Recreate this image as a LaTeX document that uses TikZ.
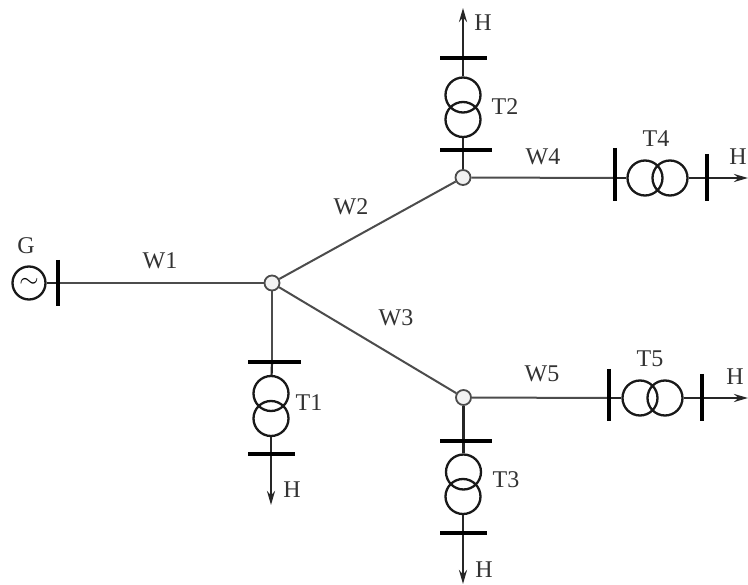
\documentclass[tikz,border=0pt]{standalone}
\usepackage{fontspec}
\setmainfont{Liberation Serif}
\usetikzlibrary{arrows.meta}
\tikzset{
  x=1pt,y=-1pt,
  lab/.style={font=\fontsize{24}{24}\selectfont,text=black!80,inner sep=0pt},
  hub/.style={circle,draw=black!70,fill=black!5,line width=1.8pt,minimum size=15pt,inner sep=0pt},
  wind/.style={circle,draw=black!90,line width=2.3pt,minimum size=35pt,inner sep=0pt},
  gen/.style={circle,draw=black!90,line width=2.3pt,minimum size=33pt,inner sep=0pt},
  wire/.style={draw=black!70,line width=2pt},
  lead/.style={draw=black!85,line width=2.2pt},
  bar/.style={draw=black,line width=3.4pt},
  outarrow/.style={draw=black!85,line width=2.2pt,-{Stealth[length=14pt,width=8pt]}},
}
\begin{document}
\begin{tikzpicture}
\useasboundingbox (0,0) rectangle (748,585);
\fill[white] (0,0) rectangle (748,585);
% generator and bus
\node[gen] (g) at (29,283) {\fontsize{26}{26}\selectfont$\sim$};
\coordinate (gb) at (58,283);
\coordinate (gbt) at (58,260);
\coordinate (gbb) at (58,306);
% hubs
\node[hub] (a) at (272,283) {};
\node[hub] (b) at (463,177.5) {};
\node[hub] (c) at (463.5,397.5) {};
% T1
\node[wind] (t1u) at (271,393.5) {};
\node[wind] (t1d) at (271,418.5) {};
\coordinate (t1a) at (272,362); \coordinate (t1al) at (248,362); \coordinate (t1ar) at (301,362);
\coordinate (t1b) at (271,454); \coordinate (t1bl) at (248,454); \coordinate (t1br) at (295,454);
\coordinate (t1h) at (271,505);
% T2
\node[wind] (t2u) at (463,95) {};
\node[wind] (t2d) at (463,119.5) {};
\coordinate (t2a) at (463,150); \coordinate (t2al) at (440,150); \coordinate (t2ar) at (492,150);
\coordinate (t2b) at (463,58); \coordinate (t2bl) at (440,58); \coordinate (t2br) at (487,58);
\coordinate (t2h) at (463,8);
% T3
\node[wind] (t3u) at (463.5,472) {};
\node[wind] (t3d) at (463,496.5) {};
\coordinate (t3a) at (463.5,441); \coordinate (t3al) at (440,441); \coordinate (t3ar) at (492,441);
\coordinate (t3b) at (463,533); \coordinate (t3bl) at (440,533); \coordinate (t3br) at (487,533);
\coordinate (t3h) at (463,584);
% T4
\node[wind] (t4l) at (645,178) {};
\node[wind] (t4r) at (670,178) {};
\coordinate (t4a) at (615,178); \coordinate (t4at) at (615,148); \coordinate (t4ab) at (615,201);
\coordinate (t4b) at (707,178); \coordinate (t4bt) at (707,154); \coordinate (t4bb) at (707,201);
\coordinate (t4h) at (748,178);
% T5
\node[wind] (t5l) at (640,398) {};
\node[wind] (t5r) at (665,398) {};
\coordinate (t5a) at (609,398); \coordinate (t5at) at (609,369); \coordinate (t5ab) at (609,421);
\coordinate (t5b) at (702,398); \coordinate (t5bt) at (702,374); \coordinate (t5bb) at (702,421);
\coordinate (t5h) at (748,398);
% lines
\draw[lead] (g) -- (gb);
\draw[wire] (gb) -- (a);
\draw[bar] (gbt) -- (gbb);
\draw[wire] (a) -- (b);
\draw[wire] (a) -- (c);
\draw[wire] (a) -- (t1a);
\draw[wire] (b) -- (t4a);
\draw[wire] (c) -- (t5a);
\draw[lead] (b) -- (t2a);
\draw[lead] (c) -- (t3a);
% transformer leads
\draw[lead] (t1a) -- (t1u); \draw[lead] (t1d) -- (t1b); \draw[outarrow] (t1b) -- (t1h);
\draw[lead] (t2a) -- (t2d); \draw[lead] (t2u) -- (t2b); \draw[outarrow] (t2b) -- (t2h);
\draw[lead] (t3a) -- (t3u); \draw[lead] (t3d) -- (t3b); \draw[outarrow] (t3b) -- (t3h);
\draw[lead] (t4a) -- (t4l); \draw[lead] (t4r) -- (t4b); \draw[outarrow] (t4b) -- (t4h);
\draw[lead] (t5a) -- (t5l); \draw[lead] (t5r) -- (t5b); \draw[outarrow] (t5b) -- (t5h);
% bars
\draw[bar] (t1al) -- (t1ar); \draw[bar] (t1bl) -- (t1br);
\draw[bar] (t2al) -- (t2ar); \draw[bar] (t2bl) -- (t2br);
\draw[bar] (t3al) -- (t3ar); \draw[bar] (t3bl) -- (t3br);
\draw[bar] (t4at) -- (t4ab); \draw[bar] (t4bt) -- (t4bb);
\draw[bar] (t5at) -- (t5ab); \draw[bar] (t5bt) -- (t5bb);
% labels
\node[lab] (lg) at (26,246) {G};
\node[lab] (lw1) at (160,261) {W1};
\node[lab] (lw2) at (351,207) {W2};
\node[lab] (lw3) at (396,318) {W3};
\node[lab] (lw4) at (543,157) {W4};
\node[lab] (lw5) at (542,374) {W5};
\node[lab] (lt1) at (309,403) {T1};
\node[lab] (lt2) at (505,107) {T2};
\node[lab] (lt3) at (506,480) {T3};
\node[lab] (lt4) at (656,139) {T4};
\node[lab] (lt5) at (650,359) {T5};
\node[lab] (lh1) at (292,490) {H};
\node[lab] (lh2) at (483,23) {H};
\node[lab] (lh3) at (484,570) {H};
\node[lab] (lh4) at (738,157) {H};
\node[lab] (lh5) at (735,377) {H};
\end{tikzpicture}
\end{document}
